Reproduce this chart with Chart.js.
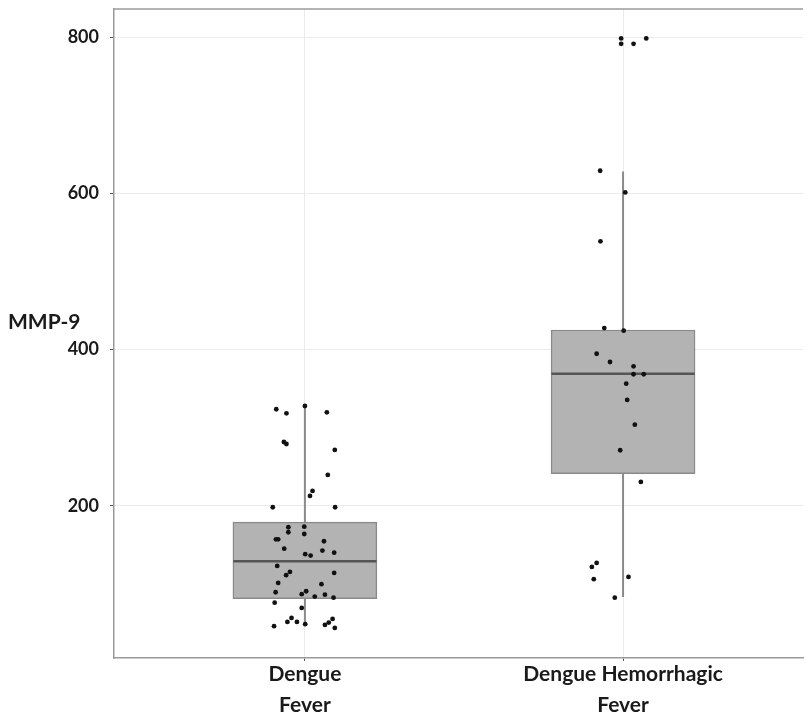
<!DOCTYPE html>
<html>
<head>
<meta charset="utf-8">
<script src="https://cdn.jsdelivr.net/npm/chart.js@4/dist/chart.umd.min.js"></script>
<style>
    html, body { margin: 0; padding: 0; background: #fff; overflow: hidden; }
    #wrap { width: 807px; height: 718px; }
</style>
</head>
<body>
<div id="wrap"><canvas id="mmpChart"></canvas></div>
<script>
// groups and box summary values
const categories = [['Dengue', 'Fever'], ['Dengue Hemorrhagic', 'Fever']];
const groupPos = [1, 2];
const whiskerLow = [47, 83];
const q1 = [81, 241];
const median = [129, 369];
const q3 = [179, 425];
const whiskerHigh = [328, 628];
const yTicks = [200, 400, 600, 800];

// jittered observations, Dengue Fever
const dfX = [0.910, 0.942, 1.000, 1.069, 0.934, 0.942, 1.094, 1.072, 1.024, 1.016,
    0.899, 1.095, 0.948, 0.998, 0.948, 0.998, 0.909, 0.916, 1.060, 0.935,
    1.055, 1.092, 1.001, 1.018, 0.913, 1.092, 0.953, 0.941, 0.916, 1.052,
    0.908, 1.004, 0.990, 1.031, 1.063, 1.090, 0.905, 0.990, 0.958, 0.945,
    0.975, 0.903, 1.001, 1.087, 1.075, 1.063, 1.094];
const dfY = [323.5, 318.3, 327.7, 319.6, 281.6, 279, 271.4, 239.4, 218.9, 212.5,
    198, 198, 172.4, 173.2, 166, 163.8, 157, 157, 154.5, 145,
    142.5, 139.9, 137.9, 136.1, 122.9, 113.9, 115.2, 111, 101.1, 99.5,
    89.2, 90.5, 86.7, 83.6, 86.1, 82.3, 75.9, 69.1, 56.3, 51.2,
    51.2, 45.7, 48.3, 55, 50.3, 47.4, 43.5];

// jittered observations, Dengue Hemorrhagic Fever
const dhfX = [1.994, 1.994, 2.033, 2.073, 1.928, 2.007, 1.929, 1.941, 2.002, 1.917,
    1.959, 2.033, 2.033, 2.065, 2.010, 2.013, 2.037, 1.991, 2.056, 1.917,
    1.902, 1.908, 2.017, 1.974];
const dhfY = [798.3, 791.4, 791.4, 798.3, 628.9, 601.2, 538.5, 427.5, 424.1, 394.6,
    384, 378.5, 368.3, 368.3, 356.2, 335.4, 303.7, 271, 230.4, 126.7,
    121.6, 105.9, 108.8, 82.3];

const boxHalf = 0.225;

const whiskerData = [];
const medianData = [];
groupPos.forEach((x, i) => {
    whiskerData.push({ x: x, y: whiskerLow[i] }, { x: x, y: whiskerHigh[i] }, { x: x, y: null });
    medianData.push({ x: x - boxHalf, y: median[i] }, { x: x + boxHalf, y: median[i] }, { x: x, y: null });
});

const pointsData = dfX.map((x, i) => ({ x: x, y: dfY[i] }))
    .concat(dhfX.map((x, i) => ({ x: x, y: dhfY[i] })));

const frame = {
    id: 'frame',
    afterDraw(chart) {
        const { ctx, chartArea } = chart;
        ctx.save();
        ctx.strokeStyle = '#9a9a9a';
        ctx.lineWidth = 1.5;
        ctx.beginPath();
        ctx.moveTo(chartArea.left, chartArea.top);
        ctx.lineTo(chartArea.right, chartArea.top);
        ctx.stroke();
        ctx.fillStyle = '#1a1a1a';
        ctx.font = 'bold 21px Lato';
        ctx.textBaseline = 'alphabetic';
        ctx.fillText('MMP-9', 8, 329);
        ctx.restore();
    }
};

Chart.defaults.font.family = 'Lato';

new Chart(document.getElementById('mmpChart'), {
    data: {
        datasets: [
            {
                type: 'line',
                data: whiskerData,
                borderColor: '#8a8a8a',
                borderWidth: 2,
                pointRadius: 0,
                spanGaps: false,
                order: 4
            },
            {
                type: 'bar',
                data: groupPos.map((x, i) => ({ x: x, y: [q1[i], q3[i]] })),
                backgroundColor: '#b3b3b3',
                borderColor: '#8a8a8a',
                borderWidth: 1.5,
                borderSkipped: false,
                barThickness: 144,
                order: 3
            },
            {
                type: 'line',
                data: medianData,
                borderColor: '#555555',
                borderWidth: 2.5,
                pointRadius: 0,
                spanGaps: false,
                order: 2
            },
            {
                type: 'scatter',
                data: pointsData,
                backgroundColor: '#111111',
                borderWidth: 0,
                pointRadius: 2.4,
                order: 1
            }
        ]
    },
    options: {
        responsive: true,
        maintainAspectRatio: false,
        animation: false,
        layout: { padding: { top: 9, left: 0, right: 0, bottom: 0 } },
        plugins: {
            legend: { display: false },
            tooltip: { enabled: false }
        },
        scales: {
            x: {
                type: 'linear',
                offset: false,
                min: 0.4,
                max: 2.5656,
                afterBuildTicks: axis => { axis.ticks = groupPos.map(v => ({ value: v })); },
                afterFit: axis => { axis.height = 60; axis.paddingLeft = 0; axis.paddingRight = 0; },
                ticks: {
                    callback: v => categories[groupPos.indexOf(v)],
                    color: '#1a1a1a',
                    font: { size: 21, weight: 'bold', lineHeight: 1.48 },
                    padding: -2,
                    maxRotation: 0
                },
                grid: { offset: false, color: '#ebebeb', tickColor: '#555', tickLength: 3 },
                border: { color: '#9a9a9a', width: 1.5 }
            },
            y: {
                min: 5,
                max: 836,
                afterBuildTicks: axis => { axis.ticks = yTicks.map(v => ({ value: v })); },
                afterFit: axis => { axis.width = 114; axis.paddingTop = 0; axis.paddingBottom = 0; },
                ticks: {
                    color: '#1a1a1a',
                    font: { size: 18, weight: 'bold' },
                    padding: 11
                },
                grid: { color: '#ebebeb', tickColor: '#555', tickLength: 4 },
                border: { color: '#9a9a9a', width: 1.5 }
            }
        }
    },
    plugins: [frame]
});
</script>
</body>
</html>
